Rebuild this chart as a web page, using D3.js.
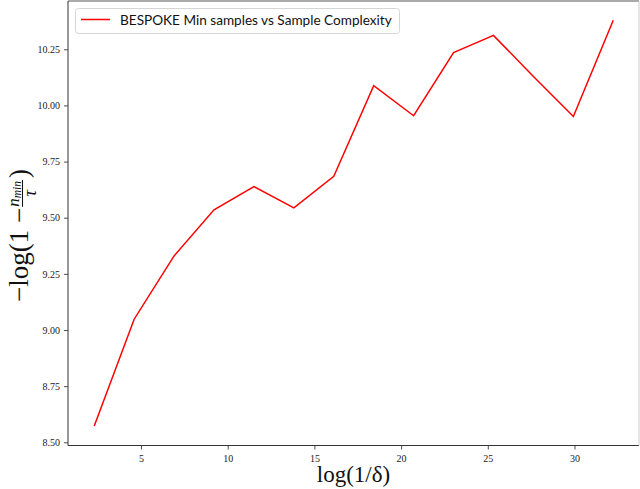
<!DOCTYPE html>
<html><head><meta charset="utf-8">
<script src="https://cdn.jsdelivr.net/npm/d3@7"></script>
<style>body{margin:0;background:#fff}svg{display:block}</style>
</head><body>
<script>
const xValues = [2.303, 4.605, 6.908, 9.210, 11.513, 13.816, 16.118, 18.421, 20.723, 23.026, 25.328, 27.631, 29.934, 32.236];
const yValues = [8.573, 9.048, 9.330, 9.535, 9.639, 9.544, 9.684, 10.088, 9.954, 10.235, 10.312, 10.129, 9.951, 10.379];
const xTicks = [5, 10, 15, 20, 25, 30];
const yTicks = [8.50, 8.75, 9.00, 9.25, 9.50, 9.75, 10.00, 10.25];
const legendLabel = "BESPOKE Min samples vs Sample Complexity";

const W = 640, H = 489;
const L = 68, R = 639, T = 1, B = 445.5;
const svg = d3.select("body").append("svg").attr("width", W).attr("height", H);

const x = d3.scaleLinear().domain([0.79, 33.72]).range([L, R]);
const y = d3.scaleLinear().domain([8.4857, 10.465]).range([B, T]);

// axes
const xAxis = d3.axisBottom(x).tickValues(xTicks).tickSize(4).tickPadding(5).tickFormat(d3.format("d"));
const yAxis = d3.axisLeft(y).tickValues(yTicks).tickSize(4).tickPadding(4).tickFormat(d3.format(".2f"));
const gx = svg.append("g").attr("transform", `translate(0,${B})`).call(xAxis);
const gy = svg.append("g").attr("transform", `translate(${L},0)`).call(yAxis);
[gx, gy].forEach(g => {
  g.select(".domain").remove();
  g.selectAll("line").attr("stroke", "#222").attr("stroke-width", 0.8);
  g.selectAll("text").attr("font-family", "Liberation Serif").attr("font-size", 10).attr("fill", "#222");
});

// spines
svg.append("line").attr("x1", L).attr("x2", L).attr("y1", T).attr("y2", B).attr("stroke", "#333").attr("stroke-width", 1);
svg.append("line").attr("x1", L).attr("x2", R).attr("y1", B).attr("y2", B).attr("stroke", "#333").attr("stroke-width", 1);
svg.append("line").attr("x1", L).attr("x2", R).attr("y1", T).attr("y2", T).attr("stroke", "#555").attr("stroke-width", 1);
svg.append("line").attr("x1", R).attr("x2", R).attr("y1", T).attr("y2", B).attr("stroke", "#ccc").attr("stroke-width", 1);

// line
const data = xValues.map((v, i) => [v, yValues[i]]);
svg.append("path").datum(data)
  .attr("d", d3.line().x(d => x(d[0])).y(d => y(d[1])))
  .attr("fill", "none").attr("stroke", "#ff0000").attr("stroke-width", 1.5).attr("stroke-linejoin", "miter");

// legend
const lg = svg.append("g");
lg.append("rect").attr("x", 75.5).attr("y", 8.5).attr("width", 324).attr("height", 25).attr("rx", 3)
  .attr("fill", "#fff").attr("stroke", "#d5d5d5").attr("stroke-width", 1);
lg.append("line").attr("x1", 81).attr("x2", 110).attr("y1", 19.5).attr("y2", 19.5).attr("stroke", "#ff0000").attr("stroke-width", 1.5);
const lt = lg.append("text").attr("x", 120).attr("y", 25).attr("font-family", "Lato").attr("font-size", 15).attr("fill", "#111").text(legendLabel);
const lw = lt.node().getComputedTextLength();
lt.attr("font-size", 15 * 272 / lw);

// x label
svg.append("text").attr("x", (L + R) / 2).attr("y", 482).attr("text-anchor", "middle")
  .attr("font-family", "Liberation Serif").attr("font-size", 23).attr("fill", "#111").text("log(1/δ)");

// y label (rotated)
const yl = svg.append("g").attr("transform", "translate(28,226) rotate(-90)")
  .attr("font-family", "Liberation Serif").attr("fill", "#111");
const t1 = yl.append("text").attr("x", -76).attr("y", 0).attr("font-size", 27).text("−log(1 − ");
const w1 = t1.node().getComputedTextLength();
const fx = -76 + w1 + 1;
const num = yl.append("text").attr("x", fx).attr("y", -9.5).attr("font-size", 17).attr("font-style", "italic");
num.append("tspan").text("n");
num.append("tspan").attr("font-size", 11.5).attr("dy", 2.5).text("min");
const nw = num.node().getComputedTextLength();
yl.append("line").attr("x1", fx).attr("x2", fx + nw + 1).attr("y1", -5.5).attr("y2", -5.5).attr("stroke", "#111").attr("stroke-width", 1);
yl.append("text").attr("x", fx + (nw + 1) / 2).attr("y", 8).attr("text-anchor", "middle").attr("font-size", 19).attr("font-style", "italic").text("τ");
yl.append("text").attr("x", fx + nw + 3).attr("y", 0).attr("font-size", 27).text(")");
</script>
</body></html>
